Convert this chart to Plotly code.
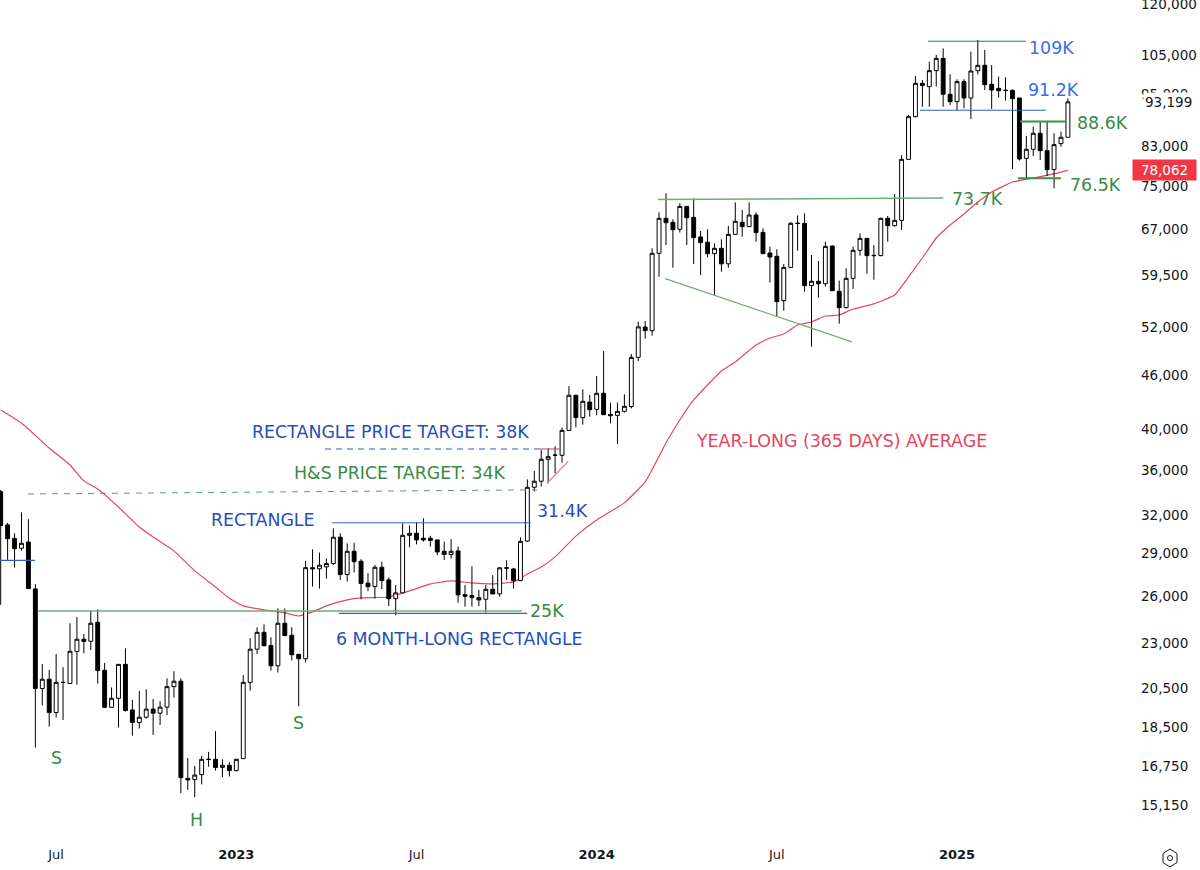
import math
from datetime import datetime, timedelta
import plotly.graph_objects as go

# Weekly BTC/USD candles, first bar is the week of 2022-05-09
FIRST_WEEK = datetime(2022, 5, 9)

opens = [
    34030, 31230, 30160, 29400, 29880, 26470, 20460, 20960, 19230, 20780,
    20730, 22520, 23240, 23120, 24280, 21450, 19490, 19950, 21780, 19360,
    18740, 19000, 19400, 19200, 19500, 20560, 20850, 16220, 16170, 16380,
    17030, 17040, 16690, 16780, 16550, 17070, 20790, 22650, 23660, 22870,
    21700, 24220, 23480, 22350, 22100, 27960, 27880, 28020, 28260, 30250,
    27470, 29170, 28430, 26870, 26630, 27990, 27090, 25810, 26200, 30400,
    30560, 30170, 30170, 30040, 29170, 28930, 29200, 26080, 26020, 25880,
    25770, 26440, 26130, 27920, 27870, 27040, 29950, 34420, 34960, 37000,
    37380, 37380, 39870, 43660, 41210, 42900, 42100, 43880, 41550, 41450,
    41880, 42400, 48150, 52080, 51590, 63010, 68970, 68260, 67040, 71130,
    69140, 65730, 64830, 62950, 63820, 61320, 66170, 68260, 67500, 69560,
    66520, 63060, 62520, 55750, 60750, 68060, 68080, 57960, 58610, 58250,
    64200, 57110, 54750, 59060, 63500, 65490, 62680, 62630, 68970, 67680,
    68610, 80330, 89700, 97760, 96930, 101020, 104280, 95030, 93240, 98190,
    94120, 101020, 102420, 97510, 96510, 96020, 96000, 94120, 80530, 82440,
    85920, 82150, 78220, 83650, 85040,
]
highs = [
    34180, 31400, 30560, 32260, 31690, 26800, 21800, 21470, 22370, 21620,
    24220, 24620, 23560, 25000, 25110, 21860, 20520, 21790, 22700, 19870,
    20330, 20420, 19920, 19800, 21010, 21400, 21010, 17090, 16750, 17190,
    17370, 18330, 17040, 16910, 17070, 21180, 23300, 23970, 24150, 23360,
    25170, 25170, 23970, 22350, 28460, 29320, 29070, 28650, 30960, 30560,
    29780, 29830, 28580, 27570, 28160, 28400, 27270, 26740, 31360, 31200,
    31450, 31770, 30360, 30040, 29910, 30090, 29530, 26740, 28070, 26400,
    26740, 27430, 28000, 28500, 27950, 30250, 35130, 35900, 37900, 38060,
    38270, 40170, 44710, 43660, 44330, 43700, 45890, 48950, 42840, 42840,
    43770, 48570, 52800, 52900, 63820, 70040, 73570, 68790, 71700, 71130,
    72620, 66740, 67040, 64650, 65330, 67620, 71880, 70470, 71880, 70040,
    67210, 64100, 63660, 61270, 68320, 69500, 69870, 62730, 61770, 64930,
    64310, 58710, 60610, 64100, 66350, 65490, 64370, 69090, 69380, 73450,
    81200, 90080, 99640, 98600, 103400, 105190, 107000, 100080, 98780, 98780,
    106100, 109340, 106550, 102510, 99470, 99300, 96260, 94200, 85330, 87410,
    88550, 88550, 85920, 86290, 94030,
]
lows = [
    25400, 28530, 27960, 29220, 26450, 17565, 19580, 18540, 18980, 18866,
    20700, 20670, 22410, 22600, 20720, 19480, 19480, 18500, 19280, 18110,
    18450, 18930, 18150, 18620, 19100, 19990, 15610, 15744, 15450, 15970,
    16720, 16550, 16270, 16300, 16520, 17070, 20350, 22370, 22850, 21430,
    21330, 23460, 22000, 19540, 21890, 26630, 26490, 27180, 28160, 27090,
    26980, 27620, 25770, 26320, 25810, 26440, 25320, 24720, 26190, 29470,
    29700, 29910, 29530, 28880, 28530, 28620, 25550, 25280, 25280, 25320,
    24900, 26110, 25940, 27090, 26490, 27040, 29880, 34040, 34480, 34780,
    35680, 36680, 39870, 40190, 40470, 41310, 41450, 41520, 40600, 38490,
    41740, 42210, 47700, 50540, 50920, 59310, 64370, 60700, 66490, 64370,
    61270, 59570, 62360, 56430, 60090, 60700, 66170, 65780, 67500, 64930,
    62950, 58430, 53490, 54330, 60750, 63440, 57060, 49500, 56180, 57810,
    57210, 52540, 54650, 57460, 62630, 59790, 58860, 62520, 64930, 67500,
    66920, 80330, 89540, 92020, 92020, 96930, 92020, 92450, 91250, 91650,
    89160, 100050, 96090, 91490, 94200, 93480, 78310, 80060, 76480, 81030,
    80190, 76940, 74530, 82990, 85040,
]
closes = [
    31170, 30140, 29370, 29780, 26490, 20460, 20960, 19230, 20790, 20790,
    22530, 23240, 23110, 24220, 21430, 19490, 19950, 21780, 19330, 18740,
    19000, 19400, 19200, 19500, 20560, 20850, 16250, 16156, 16360, 17040,
    17040, 16680, 16780, 16550, 17040, 20790, 22650, 23660, 22850, 21700,
    24220, 23460, 22330, 22100, 27960, 27880, 28140, 28260, 30250, 27470,
    29170, 28400, 26840, 26620, 27990, 27040, 25810, 26200, 30400, 30560,
    30040, 30040, 29990, 29120, 28930, 29170, 26060, 25970, 25880, 25725,
    26440, 26130, 27950, 27950, 27040, 29930, 34420, 34960, 37000, 37250,
    37410, 39870, 43660, 41210, 42980, 42060, 43880, 41520, 41410, 41880,
    42430, 48150, 52100, 51590, 63010, 68970, 68200, 66980, 71130, 69080,
    65610, 64780, 62950, 63820, 61320, 66170, 68440, 67500, 69560, 66470,
    62950, 62410, 55610, 60750, 68080, 68090, 57960, 58610, 58250, 64150,
    57210, 54750, 59060, 63500, 65490, 62630, 62630, 68970, 67680, 68610,
    80330, 89700, 97760, 97190, 101020, 104280, 95030, 93240, 98190, 94120,
    100930, 102420, 97430, 96090, 95920, 96000, 93970, 80400, 82440, 85920,
    82150, 78220, 83440, 85040, 93199,
]

# 365-day moving average, sampled at these bar numbers
ma_bars = [
    0, 3, 7, 10, 12, 14, 17, 20, 22, 25, 28, 31, 33, 35, 38, 41, 43, 45, 47, 50,
    52, 56, 59, 62, 65, 68, 71, 74, 76, 78, 80, 83, 86, 90, 93, 96, 98, 100, 102,
    104, 106, 109, 111, 113, 115, 117, 119, 121, 123, 126, 129, 131, 133, 135,
    137, 139, 141, 143, 146, 149, 152, 154,
]
ma_values = [
    42029, 40640, 38090, 36460, 34990, 34270, 32710, 31060, 30270, 29200, 27730,
    26600, 25840, 25330, 25070, 24880, 24680, 24940, 25330, 25725, 25860, 25920,
    26330, 26810, 27020, 26880, 26810, 26950, 27510, 28010, 28750, 30340, 31632,
    33060, 34900, 38590, 40957, 43129, 44830, 46480, 47570, 49710, 50620, 51150,
    52350, 52760, 53580, 53720, 54560, 55280, 56570, 59270, 62250, 65550, 67780,
    69750, 71940, 73820, 75750, 76560, 77360, 78062,
]

price_ticks = [120000, 105000, 95000, 83000, 75000, 67000, 59500, 52000, 46000, 40000,
               36000, 32000, 29000, 26000, 23000, 20500, 18500, 16750, 15150]
time_tick_bars = [8, 34, 60, 86, 112, 138]
time_tick_labels = ["Jul", "<b>2023</b>", "Jul", "<b>2024</b>", "Jul", "<b>2025</b>"]

LAST_PRICE = 93199
MA_LAST = 78062

BLUE = "#2f5fc4"
BLUE_TEXT = "#1f4fbd"
BLUE_BRIGHT = "#3a6ee8"
GREEN = "#3f8f4a"
GREEN_SOFT = "#6cb06f"
GREEN_TEXT = "#388a45"
RED = "#e5455f"
FONT = "DejaVu Sans"

WIDTH, HEIGHT = 1200, 870
PLOT_W, PLOT_H = 1130, 845


def week(bar):
    """Date of a (possibly fractional) bar number."""
    return FIRST_WEEK + timedelta(days=7 * bar)


dates = [week(i) for i in range(len(closes))]

fig = go.Figure()

# Average sits on the base axes so the candles paint over it
fig.add_trace(go.Scatter(
    x=[week(b) for b in ma_bars], y=ma_values, mode="lines",
    line=dict(color=RED, width=1.2, shape="spline", smoothing=0.4), hoverinfo="skip",
))

fig.add_trace(go.Candlestick(
    x=dates, open=opens, high=highs, low=lows, close=closes,
    xaxis="x2", yaxis="y2", whiskerwidth=0, hoverinfo="skip",
    increasing=dict(fillcolor="#ffffff", line=dict(color="#000000", width=1)),
    decreasing=dict(fillcolor="#000000", line=dict(color="#000000", width=1)),
))


def level(bar_a, bar_b, price_a, price_b, color, width=1.0, dash="solid"):
    fig.add_trace(go.Scatter(
        x=[week(bar_a), week(bar_b)], y=[price_a, price_b], mode="lines",
        xaxis="x2", yaxis="y2", hoverinfo="skip",
        line=dict(color=color, width=width, dash=dash),
    ))


# Drawn support, resistance and target levels
level(133.8, 147.95, 109000, 109000, BLUE)
level(132.66, 150.8, 91200, 91200, BLUE)
level(147.1, 153.7, 88600, 88600, GREEN, 2)
level(146.8, 153.0, 76500, 76500, GREEN, 2)
level(94.85, 136.0, 72400, 72700, GREEN_SOFT, 1.5)
level(95.9, 122.85, 59010, 50110, GREEN_SOFT, 1.3)
level(46.8, 77.8, 38000, 38000, BLUE, 1, "6px,5px")
level(77.8, 80.6, 38000, 38000, "#b5475a", 1)
level(3.94, 77.4, 33830, 34190, "#5c9a70", 1, "6px,6px")
level(47.8, 76.5, 31400, 31400, BLUE)
level(5.4, 75.2, 25000, 25000, GREEN_SOFT, 1.5)
level(48.8, 75.95, 24850, 24850, BLUE, 1.3)
level(-0.1, 4.95, 28500, 28500, BLUE, 1.3)
level(78.8, 81.9, 34760, 36810, "#ee7f90", 1.2)


def px_note(text, px, py, color, size=17.4, anchor="left"):
    fig.add_annotation(
        text=text, xref="paper", yref="paper", x=px / PLOT_W, y=1 - py / PLOT_H,
        xanchor=anchor, yanchor="middle", showarrow=False,
        font=dict(family=FONT, size=size, color=color), borderpad=0,
    )


px_note("RECTANGLE PRICE TARGET: 38K", 251, 432, BLUE_TEXT)
px_note("H&amp;S PRICE TARGET: 34K", 293, 473, GREEN_TEXT)
px_note("RECTANGLE", 210, 520, BLUE_TEXT)
px_note("31.4K", 536, 511, BLUE_TEXT)
px_note("25K", 529, 611, GREEN_TEXT)
px_note("6 MONTH-LONG RECTANGLE", 335, 639, BLUE_TEXT)
px_note("YEAR-LONG (365 DAYS) AVERAGE", 695, 441, RED)
px_note("109K", 1028, 48, BLUE_BRIGHT)
px_note("91.2K", 1027, 90, BLUE_BRIGHT)
px_note("88.6K", 1076, 123, GREEN_TEXT)
px_note("76.5K", 1069, 185, GREEN_TEXT)
px_note("73.7K", 951, 199, GREEN_TEXT)
px_note("S", 56, 758, GREEN_TEXT, anchor="center")
px_note("S", 298, 723, GREEN_TEXT, anchor="center")
px_note("H", 196, 820, GREEN_TEXT, anchor="center")

# Last-price tags on the price scale
fig.add_annotation(
    text=f"{LAST_PRICE:,}", xref="paper", yref="y", x=1143 / PLOT_W,
    y=math.log10(LAST_PRICE), xanchor="left", yanchor="middle", showarrow=False,
    font=dict(family=FONT, size=13.5, color="#131722"), bgcolor="#ffffff", borderpad=1,
)
fig.add_annotation(
    text=f"{MA_LAST:,}", xref="paper", yref="y", x=1132 / PLOT_W,
    y=math.log10(MA_LAST), xanchor="left", yanchor="middle", showarrow=False,
    font=dict(family=FONT, size=13.5, color="#ffffff"), bgcolor="#f23645",
    width=63, height=20, borderpad=0,
)

# Chart settings glyph in the bottom-right corner
cx, cy = 1170 / PLOT_W, 1 - 858 / PLOT_H
hx, hy = 7 / PLOT_W, 9 / PLOT_H
hexagon = (f"M {cx} {cy + hy} L {cx + hx} {cy + hy / 2} L {cx + hx} {cy - hy / 2} "
           f"L {cx} {cy - hy} L {cx - hx} {cy - hy / 2} L {cx - hx} {cy + hy / 2} Z")
fig.add_shape(type="path", path=hexagon, xref="paper", yref="paper",
              line=dict(color="#131722", width=1))
fig.add_shape(type="circle", xref="paper", yref="paper",
              x0=cx - 2.5 / PLOT_W, x1=cx + 2.5 / PLOT_W,
              y0=cy - 2.5 / PLOT_H, y1=cy + 2.5 / PLOT_H,
              line=dict(color="#131722", width=1))

x_range = [week(-0.1), week(162.96)]
y_range = [4.1353, 5.0837]

fig.update_layout(
    width=WIDTH, height=HEIGHT, showlegend=False, boxgap=0.2,
    margin=dict(l=0, r=WIDTH - PLOT_W, t=0, b=HEIGHT - PLOT_H),
    paper_bgcolor="#ffffff", plot_bgcolor="#ffffff",
    xaxis=dict(
        range=x_range, type="date", showgrid=False, zeroline=False, showline=False,
        tickmode="array", tickvals=[week(b) for b in time_tick_bars],
        ticktext=time_tick_labels, ticks="", automargin=False,
        tickfont=dict(family=FONT, size=13, color="#131722"),
        rangeslider=dict(visible=False),
    ),
    yaxis=dict(
        type="log", range=y_range, side="right", showgrid=False, zeroline=False,
        showline=False, tickmode="array", tickvals=price_ticks,
        ticktext=[f"{v:,}" for v in price_ticks], ticks="", automargin=False,
        ticklabelstandoff=10, ticklabeloverflow="allow",
        tickfont=dict(family=FONT, size=13.5, color="#131722"),
    ),
    xaxis2=dict(range=x_range, type="date", overlaying="x", visible=False,
                rangeslider=dict(visible=False)),
    yaxis2=dict(type="log", range=y_range, overlaying="y", visible=False),
)

fig.write_html("out.html", config={"displayModeBar": False})
